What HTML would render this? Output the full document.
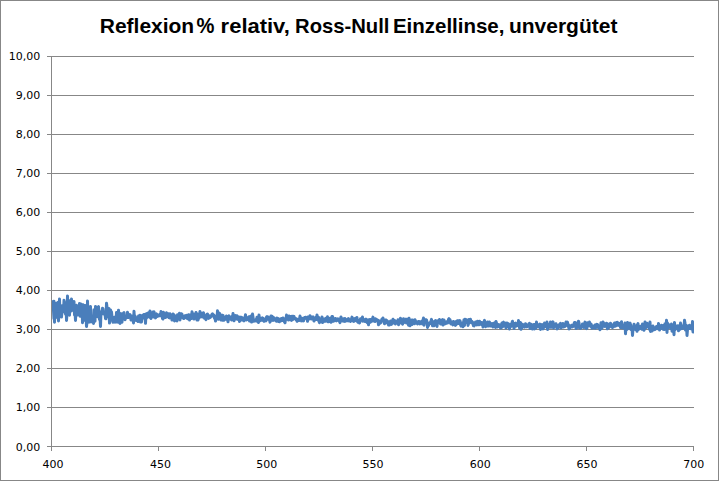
<!DOCTYPE html>
<html><head><meta charset="utf-8"><style>
html,body{margin:0;padding:0;background:#fff;}
svg{display:block;}
</style></head><body>
<svg width="719" height="481" viewBox="0 0 719 481">
<defs><clipPath id="pa"><rect x="52" y="56" width="642" height="390"/></clipPath></defs>
<rect x="0.5" y="0.5" width="718" height="480" fill="#fff" stroke="#878787" stroke-width="1"/>
<g font-family="Liberation Sans, sans-serif" font-weight="bold" font-size="20.5" fill="#000"><text x="99.78" y="33" textLength="94.43" lengthAdjust="spacingAndGlyphs">Reflexion</text><text x="196.42" y="33" font-size="21.5" textLength="17.91" lengthAdjust="spacingAndGlyphs">%</text><text x="220.63" y="33" textLength="69.16" lengthAdjust="spacingAndGlyphs">relativ,</text><text x="295.11" y="33" textLength="94.35" lengthAdjust="spacingAndGlyphs">Ross-Null</text><text x="392.90" y="33" textLength="111.55" lengthAdjust="spacingAndGlyphs">Einzellinse,</text><text x="508.98" y="33" textLength="108.46" lengthAdjust="spacingAndGlyphs">unvergütet</text></g>
<g stroke="#878787" stroke-width="1" shape-rendering="crispEdges"><line x1="47" y1="446.5" x2="694" y2="446.5"/><line x1="47" y1="407.5" x2="694" y2="407.5"/><line x1="47" y1="368.5" x2="694" y2="368.5"/><line x1="47" y1="329.5" x2="694" y2="329.5"/><line x1="47" y1="290.5" x2="694" y2="290.5"/><line x1="47" y1="251.5" x2="694" y2="251.5"/><line x1="47" y1="212.5" x2="694" y2="212.5"/><line x1="47" y1="173.5" x2="694" y2="173.5"/><line x1="47" y1="134.5" x2="694" y2="134.5"/><line x1="47" y1="95.5" x2="694" y2="95.5"/><line x1="47" y1="56.5" x2="694" y2="56.5"/><line x1="51.5" y1="56" x2="51.5" y2="451"/><line x1="51.5" y1="446" x2="51.5" y2="451"/><line x1="158.5" y1="446" x2="158.5" y2="451"/><line x1="265.5" y1="446" x2="265.5" y2="451"/><line x1="372.5" y1="446" x2="372.5" y2="451"/><line x1="479.5" y1="446" x2="479.5" y2="451"/><line x1="586.5" y1="446" x2="586.5" y2="451"/><line x1="693.5" y1="446" x2="693.5" y2="451"/></g>
<g font-family="DejaVu Sans, sans-serif" font-size="11" fill="#000" text-anchor="end"><text x="40.3" y="451">0,00</text><text x="40.3" y="411">1,00</text><text x="40.3" y="372">2,00</text><text x="40.3" y="333">3,00</text><text x="40.3" y="294">4,00</text><text x="40.3" y="255">5,00</text><text x="40.3" y="216">6,00</text><text x="40.3" y="177">7,00</text><text x="40.3" y="138">8,00</text><text x="40.3" y="99">9,00</text><text x="40.3" y="60">10,00</text></g>
<g font-family="DejaVu Sans, sans-serif" font-size="11" fill="#000" text-anchor="middle"><text x="53.1" y="468">400</text><text x="160.4" y="468">450</text><text x="266.8" y="468">500</text><text x="373.0" y="468">550</text><text x="480.3" y="468">600</text><text x="587.0" y="468">650</text><text x="693.8" y="468">700</text></g>
<polyline clip-path="url(#pa)" fill="none" stroke="#4a7ebb" stroke-width="3" stroke-linejoin="round" stroke-linecap="round" points="51.0,318.5 51.5,301.5 52.0,303.2 52.5,306.4 53.0,307.1 53.5,308.5 54.0,301.2 54.5,322.2 55.0,304.2 55.5,318.0 56.0,310.8 56.5,303.2 57.0,307.6 57.5,305.1 58.0,302.6 58.5,321.0 59.0,312.0 59.5,299.0 60.0,314.8 60.5,307.6 61.0,308.9 61.5,317.1 62.0,311.9 62.5,305.4 63.0,307.3 63.5,311.7 64.0,300.2 64.5,306.6 65.0,306.6 65.5,314.2 66.0,302.5 66.5,320.5 67.0,313.7 67.5,296.1 68.0,309.1 68.5,312.8 69.0,300.4 69.5,315.3 70.0,303.2 70.5,300.8 71.0,311.1 71.5,299.0 72.0,307.0 72.5,303.2 73.0,310.2 73.5,309.8 74.0,301.5 74.5,315.0 75.0,311.8 75.5,320.5 76.0,309.6 76.5,305.3 77.0,314.7 77.5,314.9 78.0,310.1 78.5,306.7 79.0,313.1 79.5,303.4 80.0,316.3 80.5,315.2 81.0,303.9 81.5,312.8 82.0,306.8 82.5,322.7 83.0,304.7 83.5,307.6 84.0,317.5 84.5,320.3 85.0,305.4 85.5,310.8 86.0,315.8 86.5,326.5 87.0,322.2 87.5,301.1 88.0,316.5 88.5,308.5 89.0,322.2 89.5,314.3 90.0,312.2 90.5,306.6 91.0,321.9 91.5,318.4 92.0,318.3 92.5,320.3 93.0,316.0 93.5,323.5 94.0,309.7 94.5,309.7 95.0,321.2 95.5,306.6 96.0,310.7 96.5,312.1 97.0,314.9 97.5,316.7 98.0,307.3 98.5,306.7 99.0,313.6 99.5,319.6 100.0,317.3 100.5,326.5 101.0,311.7 101.5,314.5 102.0,311.7 102.5,308.2 103.0,308.9 103.5,313.1 104.0,311.8 104.5,314.6 105.0,313.0 105.5,318.6 106.0,318.8 106.5,303.2 107.0,307.2 107.5,312.1 108.0,311.3 108.5,316.6 109.0,308.6 109.5,323.1 110.0,319.8 110.5,310.0 111.0,311.7 111.5,311.9 112.0,316.7 112.5,319.2 113.0,322.2 113.5,321.4 114.0,319.7 114.5,317.2 115.0,322.2 115.5,319.6 116.0,322.1 116.5,312.4 117.0,315.9 117.5,313.6 118.0,322.2 118.5,310.2 119.0,315.6 119.5,315.1 120.0,323.5 120.5,314.3 121.0,313.6 121.5,318.5 122.0,322.2 122.5,316.1 123.0,315.1 123.5,313.1 124.0,312.6 124.5,318.7 125.0,319.7 125.5,317.1 126.0,318.1 126.5,317.4 127.0,317.5 127.5,312.2 128.0,315.7 128.5,317.5 129.0,314.7 129.5,315.7 130.0,314.6 130.5,316.2 131.0,320.0 131.5,316.0 132.0,316.9 132.5,320.0 133.0,319.5 133.5,322.9 134.0,311.3 134.5,320.2 135.0,316.0 135.5,317.8 136.0,319.9 136.5,320.5 137.0,320.2 137.5,317.5 138.0,321.6 138.5,316.1 139.0,316.5 139.5,318.9 140.0,315.2 140.5,322.1 141.0,319.1 141.5,321.9 142.0,316.3 142.5,315.3 143.0,316.6 143.5,317.9 144.0,314.6 144.5,316.8 145.0,315.8 145.5,323.3 146.0,314.1 146.5,318.0 147.0,314.1 147.5,313.3 148.0,313.8 148.5,312.7 149.0,315.5 149.5,317.3 150.0,311.0 150.5,316.4 151.0,318.5 151.5,315.7 152.0,315.6 152.5,314.7 153.0,311.9 153.5,316.9 154.0,311.7 154.5,316.8 155.0,315.5 155.5,317.9 156.0,315.5 156.5,313.9 157.0,316.5 157.5,314.6 158.0,315.4 158.5,315.9 159.0,315.6 159.5,315.6 160.0,314.3 160.5,315.7 161.0,311.6 161.5,315.8 162.0,313.7 162.5,318.6 163.0,319.0 163.5,312.3 164.0,316.7 164.5,316.2 165.0,314.3 165.5,317.6 166.0,315.5 166.5,312.7 167.0,315.9 167.5,316.1 168.0,316.6 168.5,313.7 169.0,317.7 169.5,317.9 170.0,313.8 170.5,314.9 171.0,316.1 171.5,315.0 172.0,320.0 172.5,316.7 173.0,314.0 173.5,314.4 174.0,316.0 174.5,320.9 175.0,315.7 175.5,316.4 176.0,317.2 176.5,316.0 177.0,320.9 177.5,314.8 178.0,317.6 178.5,316.3 179.0,317.3 179.5,313.3 180.0,319.9 180.5,315.6 181.0,315.9 181.5,313.7 182.0,314.2 182.5,317.1 183.0,318.0 183.5,317.5 184.0,318.5 184.5,317.4 185.0,315.8 185.5,317.6 186.0,317.0 186.5,315.4 187.0,317.3 187.5,318.6 188.0,316.1 188.5,314.7 189.0,317.2 189.5,320.0 190.0,315.0 190.5,315.3 191.0,315.2 191.5,318.4 192.0,311.8 192.5,316.5 193.0,318.4 193.5,313.9 194.0,319.1 194.5,317.0 195.0,314.6 195.5,316.3 196.0,312.5 196.5,314.7 197.0,320.0 197.5,314.0 198.0,320.0 198.5,315.9 199.0,318.2 199.5,316.2 200.0,311.4 200.5,314.9 201.0,316.6 201.5,313.8 202.0,313.4 202.5,317.0 203.0,315.0 203.5,312.8 204.0,315.0 204.5,318.2 205.0,315.5 205.5,318.4 206.0,319.6 206.5,316.6 207.0,314.3 207.5,314.0 208.0,316.6 208.5,318.4 209.0,317.2 209.5,317.8 210.0,315.9 210.5,317.4 211.0,315.9 211.5,316.2 212.0,314.4 212.5,313.9 213.0,316.0 213.5,314.9 214.0,315.2 214.5,318.3 215.0,316.8 215.5,321.1 216.0,318.8 216.5,315.9 217.0,318.6 217.5,310.8 218.0,315.9 218.5,319.3 219.0,315.8 219.5,313.1 220.0,318.7 220.5,316.1 221.0,320.1 221.5,316.1 222.0,315.1 222.5,320.3 223.0,315.4 223.5,317.8 224.0,320.2 224.5,317.7 225.0,317.3 225.5,317.7 226.0,319.1 226.5,316.0 227.0,318.7 227.5,318.7 228.0,321.8 228.5,317.0 229.0,315.9 229.5,319.1 230.0,317.0 230.5,318.3 231.0,318.0 231.5,320.0 232.0,316.5 232.5,317.6 233.0,313.6 233.5,316.2 234.0,320.8 234.5,316.6 235.0,316.6 235.5,315.6 236.0,319.1 236.5,318.3 237.0,315.7 237.5,319.3 238.0,318.6 238.5,319.5 239.0,316.9 239.5,321.5 240.0,318.9 240.5,317.9 241.0,317.2 241.5,317.7 242.0,319.9 242.5,317.7 243.0,320.3 243.5,319.4 244.0,320.9 244.5,319.9 245.0,318.2 245.5,314.7 246.0,318.9 246.5,319.9 247.0,318.7 247.5,319.5 248.0,317.5 248.5,317.7 249.0,316.7 249.5,321.0 250.0,318.8 250.5,317.6 251.0,316.0 251.5,322.1 252.0,321.3 252.5,314.0 253.0,317.2 253.5,321.3 254.0,321.3 254.5,320.5 255.0,320.1 255.5,320.8 256.0,319.7 256.5,320.1 257.0,317.3 257.5,321.5 258.0,319.2 258.5,322.5 259.0,315.0 259.5,320.1 260.0,320.6 260.5,318.2 261.0,319.7 261.5,320.2 262.0,319.9 262.5,317.9 263.0,318.6 263.5,320.8 264.0,321.3 264.5,319.1 265.0,319.1 265.5,319.4 266.0,320.9 266.5,317.1 267.0,316.6 267.5,319.3 268.0,317.0 268.5,318.0 269.0,319.3 269.5,320.0 270.0,322.1 270.5,320.6 271.0,315.9 271.5,320.2 272.0,316.3 272.5,316.9 273.0,320.4 273.5,318.5 274.0,317.8 274.5,318.5 275.0,320.1 275.5,319.2 276.0,319.3 276.5,321.3 277.0,318.1 277.5,318.5 278.0,318.5 278.5,321.5 279.0,321.1 279.5,321.6 280.0,319.2 280.5,319.0 281.0,320.7 281.5,318.5 282.0,320.6 282.5,320.4 283.0,317.9 283.5,318.9 284.0,318.8 284.5,322.0 285.0,322.8 285.5,318.8 286.0,318.9 286.5,315.1 287.0,319.2 287.5,318.8 288.0,317.0 288.5,320.1 289.0,316.1 289.5,318.3 290.0,318.9 290.5,316.5 291.0,320.0 291.5,320.4 292.0,316.2 292.5,316.2 293.0,319.5 293.5,318.4 294.0,316.4 294.5,317.9 295.0,318.2 295.5,318.2 296.0,319.8 296.5,319.0 297.0,321.3 297.5,320.6 298.0,319.4 298.5,320.1 299.0,320.5 299.5,319.4 300.0,316.1 300.5,319.6 301.0,318.3 301.5,320.9 302.0,318.3 302.5,319.0 303.0,318.6 303.5,320.9 304.0,318.3 304.5,317.5 305.0,318.5 305.5,317.2 306.0,318.2 306.5,317.9 307.0,318.4 307.5,321.2 308.0,317.1 308.5,317.9 309.0,317.5 309.5,318.9 310.0,315.7 310.5,316.6 311.0,317.9 311.5,319.0 312.0,318.0 312.5,317.3 313.0,316.8 313.5,319.3 314.0,321.0 314.5,319.2 315.0,319.0 315.5,319.6 316.0,317.2 316.5,318.4 317.0,314.9 317.5,319.7 318.0,319.2 318.5,317.1 319.0,321.5 319.5,322.6 320.0,319.1 320.5,320.3 321.0,320.1 321.5,321.0 322.0,317.0 322.5,322.5 323.0,318.8 323.5,321.8 324.0,319.8 324.5,319.0 325.0,319.4 325.5,321.2 326.0,318.2 326.5,319.0 327.0,318.9 327.5,316.8 328.0,321.8 328.5,320.6 329.0,319.6 329.5,321.5 330.0,318.2 330.5,319.6 331.0,322.3 331.5,321.2 332.0,316.4 332.5,316.4 333.0,318.2 333.5,321.2 334.0,319.0 334.5,319.4 335.0,320.6 335.5,318.5 336.0,320.0 336.5,320.8 337.0,320.4 337.5,320.3 338.0,318.9 338.5,320.4 339.0,319.2 339.5,321.4 340.0,322.6 340.5,318.8 341.0,317.0 341.5,319.2 342.0,320.2 342.5,321.0 343.0,321.1 343.5,318.8 344.0,318.8 344.5,321.4 345.0,318.4 345.5,321.2 346.0,319.5 346.5,320.8 347.0,320.7 347.5,320.8 348.0,320.9 348.5,318.6 349.0,320.2 349.5,319.9 350.0,320.3 350.5,321.5 351.0,319.5 351.5,319.0 352.0,317.1 352.5,319.5 353.0,320.9 353.5,318.8 354.0,321.4 354.5,320.3 355.0,319.6 355.5,318.2 356.0,320.3 356.5,320.9 357.0,317.6 357.5,321.6 358.0,322.2 358.5,320.4 359.0,320.6 359.5,323.0 360.0,321.7 360.5,318.8 361.0,320.0 361.5,319.9 362.0,319.9 362.5,317.1 363.0,321.2 363.5,319.3 364.0,320.5 364.5,320.1 365.0,321.5 365.5,319.9 366.0,319.2 366.5,321.1 367.0,322.4 367.5,320.0 368.0,322.4 368.5,324.8 369.0,319.8 369.5,322.7 370.0,319.4 370.5,322.1 371.0,319.9 371.5,321.3 372.0,318.9 372.5,319.5 373.0,317.1 373.5,321.1 374.0,320.9 374.5,320.2 375.0,321.5 375.5,318.8 376.0,319.3 376.5,320.7 377.0,319.7 377.5,320.0 378.0,320.9 378.5,324.8 379.0,320.8 379.5,323.7 380.0,322.7 380.5,323.0 381.0,321.1 381.5,320.4 382.0,319.0 382.5,320.7 383.0,318.0 383.5,320.4 384.0,322.5 384.5,323.8 385.0,322.8 385.5,320.0 386.0,322.1 386.5,320.1 387.0,322.7 387.5,321.2 388.0,322.8 388.5,324.9 389.0,322.9 389.5,325.0 390.0,321.8 390.5,321.0 391.0,323.7 391.5,324.3 392.0,320.7 392.5,321.7 393.0,319.3 393.5,321.3 394.0,323.1 394.5,321.5 395.0,320.7 395.5,323.9 396.0,322.3 396.5,323.0 397.0,322.7 397.5,322.2 398.0,319.7 398.5,324.7 399.0,321.7 399.5,321.6 400.0,323.1 400.5,318.2 401.0,321.8 401.5,321.7 402.0,322.5 402.5,324.2 403.0,322.7 403.5,318.8 404.0,321.4 404.5,322.4 405.0,322.3 405.5,319.8 406.0,319.2 406.5,323.0 407.0,322.7 407.5,322.1 408.0,319.1 408.5,325.2 409.0,318.3 409.5,321.5 410.0,325.8 410.5,321.9 411.0,322.6 411.5,320.1 412.0,324.6 412.5,320.0 413.0,322.7 413.5,322.5 414.0,320.4 414.5,323.8 415.0,319.8 415.5,321.1 416.0,322.3 416.5,321.6 417.0,323.2 417.5,324.0 418.0,321.8 418.5,321.4 419.0,321.5 419.5,321.8 420.0,323.9 420.5,322.1 421.0,323.2 421.5,322.3 422.0,321.0 422.5,324.1 423.0,320.6 423.5,318.0 424.0,325.2 424.5,320.6 425.0,322.5 425.5,319.7 426.0,321.7 426.5,319.9 427.0,322.0 427.5,327.4 428.0,322.9 428.5,325.6 429.0,323.2 429.5,323.9 430.0,322.6 430.5,322.2 431.0,321.2 431.5,319.4 432.0,322.8 432.5,325.7 433.0,323.6 433.5,321.7 434.0,325.8 434.5,321.9 435.0,321.6 435.5,320.5 436.0,320.9 436.5,322.2 437.0,326.4 437.5,322.3 438.0,320.8 438.5,321.6 439.0,322.3 439.5,319.5 440.0,322.9 440.5,324.0 441.0,323.3 441.5,323.8 442.0,320.3 442.5,319.6 443.0,325.1 443.5,324.7 444.0,319.9 444.5,323.1 445.0,322.7 445.5,323.7 446.0,323.1 446.5,321.8 447.0,323.1 447.5,323.0 448.0,322.6 448.5,319.3 449.0,318.6 449.5,321.2 450.0,319.7 450.5,323.2 451.0,324.0 451.5,323.2 452.0,322.0 452.5,322.8 453.0,324.9 453.5,321.4 454.0,324.4 454.5,324.0 455.0,323.2 455.5,325.4 456.0,321.4 456.5,324.4 457.0,321.0 457.5,321.3 458.0,320.7 458.5,323.5 459.0,321.0 459.5,322.8 460.0,320.6 460.5,324.7 461.0,326.1 461.5,323.1 462.0,325.7 462.5,323.7 463.0,326.7 463.5,322.9 464.0,319.8 464.5,325.5 465.0,319.3 465.5,320.8 466.0,321.5 466.5,319.7 467.0,322.4 467.5,320.7 468.0,325.4 468.5,323.9 469.0,319.6 469.5,319.9 470.0,321.7 470.5,319.2 471.0,322.6 471.5,322.8 472.0,321.5 472.5,322.0 473.0,324.0 473.5,325.8 474.0,325.9 474.5,323.3 475.0,324.9 475.5,322.0 476.0,324.2 476.5,321.7 477.0,324.9 477.5,321.3 478.0,321.9 478.5,323.7 479.0,324.8 479.5,321.2 480.0,322.9 480.5,324.2 481.0,324.4 481.5,322.5 482.0,324.3 482.5,323.7 483.0,326.9 483.5,325.4 484.0,321.9 484.5,320.4 485.0,324.7 485.5,326.7 486.0,324.8 486.5,326.2 487.0,323.7 487.5,322.0 488.0,326.0 488.5,324.8 489.0,325.9 489.5,322.1 490.0,325.0 490.5,323.5 491.0,326.1 491.5,323.6 492.0,323.5 492.5,323.6 493.0,327.0 493.5,324.8 494.0,323.3 494.5,322.8 495.0,322.8 495.5,327.4 496.0,321.4 496.5,323.2 497.0,326.0 497.5,327.0 498.0,324.5 498.5,326.3 499.0,326.2 499.5,326.6 500.0,324.9 500.5,327.9 501.0,325.3 501.5,327.7 502.0,322.9 502.5,326.7 503.0,322.7 503.5,322.2 504.0,325.9 504.5,323.5 505.0,325.8 505.5,323.1 506.0,328.0 506.5,325.1 507.0,323.0 507.5,325.4 508.0,326.7 508.5,323.7 509.0,326.1 509.5,328.9 510.0,326.7 510.5,325.2 511.0,324.2 511.5,326.3 512.0,322.5 512.5,321.2 513.0,324.0 513.5,323.3 514.0,328.4 514.5,325.5 515.0,323.5 515.5,323.2 516.0,326.2 516.5,323.8 517.0,324.3 517.5,325.2 518.0,325.5 518.5,320.6 519.0,325.6 519.5,327.8 520.0,328.5 520.5,322.5 521.0,329.3 521.5,325.7 522.0,327.7 522.5,324.2 523.0,326.1 523.5,325.9 524.0,325.7 524.5,327.1 525.0,326.7 525.5,323.8 526.0,325.4 526.5,326.9 527.0,326.8 527.5,325.0 528.0,325.1 528.5,325.4 529.0,323.7 529.5,323.4 530.0,328.5 530.5,325.0 531.0,325.9 531.5,324.4 532.0,328.0 532.5,328.9 533.0,325.4 533.5,326.7 534.0,324.4 534.5,328.9 535.0,327.4 535.5,324.3 536.0,328.0 536.5,322.1 537.0,326.5 537.5,326.4 538.0,324.6 538.5,324.8 539.0,326.9 539.5,325.7 540.0,324.1 540.5,329.4 541.0,325.4 541.5,324.8 542.0,324.5 542.5,327.0 543.0,328.9 543.5,326.2 544.0,327.3 544.5,323.1 545.0,325.1 545.5,324.9 546.0,325.8 546.5,326.7 547.0,322.1 547.5,329.5 548.0,324.2 548.5,326.4 549.0,327.3 549.5,327.3 550.0,326.2 550.5,321.9 551.0,323.8 551.5,327.2 552.0,324.1 552.5,323.8 553.0,321.9 553.5,328.0 554.0,326.7 554.5,324.1 555.0,325.5 555.5,325.6 556.0,323.7 556.5,325.2 557.0,328.9 557.5,326.8 558.0,328.1 558.5,325.8 559.0,324.9 559.5,326.5 560.0,324.5 560.5,323.4 561.0,327.9 561.5,325.0 562.0,326.0 562.5,327.0 563.0,323.6 563.5,327.0 564.0,326.6 564.5,325.5 565.0,326.5 565.5,324.3 566.0,322.0 566.5,325.2 567.0,324.0 567.5,322.1 568.0,326.2 568.5,324.7 569.0,328.9 569.5,328.4 570.0,327.9 570.5,326.5 571.0,326.6 571.5,325.2 572.0,325.5 572.5,326.9 573.0,325.5 573.5,326.3 574.0,323.6 574.5,322.5 575.0,322.4 575.5,324.9 576.0,328.4 576.5,328.1 577.0,323.8 577.5,322.7 578.0,327.3 578.5,321.2 579.0,323.0 579.5,327.9 580.0,326.1 580.5,328.4 581.0,326.4 581.5,327.5 582.0,326.4 582.5,323.9 583.0,325.3 583.5,324.4 584.0,327.4 584.5,323.8 585.0,322.1 585.5,327.1 586.0,328.0 586.5,328.6 587.0,327.9 587.5,322.8 588.0,324.4 588.5,324.7 589.0,325.7 589.5,322.1 590.0,325.7 590.5,326.3 591.0,323.9 591.5,326.0 592.0,328.1 592.5,325.9 593.0,327.8 593.5,327.8 594.0,326.6 594.5,326.5 595.0,325.0 595.5,328.2 596.0,324.8 596.5,324.4 597.0,327.1 597.5,324.4 598.0,326.6 598.5,327.8 599.0,325.9 599.5,325.9 600.0,329.8 600.5,327.1 601.0,322.7 601.5,323.1 602.0,328.2 602.5,326.4 603.0,322.1 603.5,323.0 604.0,325.6 604.5,323.7 605.0,326.4 605.5,325.7 606.0,326.4 606.5,323.3 607.0,326.6 607.5,328.8 608.0,323.9 608.5,327.9 609.0,327.2 609.5,326.6 610.0,325.2 610.5,323.2 611.0,323.7 611.5,326.7 612.0,327.1 612.5,327.5 613.0,327.0 613.5,326.9 614.0,324.4 614.5,323.0 615.0,325.5 615.5,326.1 616.0,325.3 616.5,322.4 617.0,324.2 617.5,322.4 618.0,325.3 618.5,323.2 619.0,324.7 619.5,325.6 620.0,325.2 620.5,327.5 621.0,323.1 621.5,321.7 622.0,327.0 622.5,327.9 623.0,328.0 623.5,325.9 624.0,326.5 624.5,325.7 625.0,322.9 625.5,333.8 626.0,326.6 626.5,324.5 627.0,329.5 627.5,322.5 628.0,324.9 628.5,328.3 629.0,324.6 629.5,323.5 630.0,323.0 630.5,324.4 631.0,329.5 631.5,327.1 632.0,327.4 632.5,335.5 633.0,328.3 633.5,326.6 634.0,324.2 634.5,325.4 635.0,327.0 635.5,329.5 636.0,326.5 636.5,327.9 637.0,331.3 637.5,324.7 638.0,323.6 638.5,329.4 639.0,328.1 639.5,326.7 640.0,327.7 640.5,326.2 641.0,328.4 641.5,326.2 642.0,329.2 642.5,324.0 643.0,324.9 643.5,327.4 644.0,330.2 644.5,328.9 645.0,322.1 645.5,325.7 646.0,327.6 646.5,325.8 647.0,323.2 647.5,324.3 648.0,325.1 648.5,325.9 649.0,327.4 649.5,329.4 650.0,322.1 650.5,331.5 651.0,330.2 651.5,326.7 652.0,331.1 652.5,330.0 653.0,326.1 653.5,327.9 654.0,329.7 654.5,327.7 655.0,329.5 655.5,328.1 656.0,328.8 656.5,326.4 657.0,328.1 657.5,326.4 658.0,328.7 658.5,323.4 659.0,327.9 659.5,330.0 660.0,328.5 660.5,327.1 661.0,328.4 661.5,325.3 662.0,325.4 662.5,326.4 663.0,326.9 663.5,329.4 664.0,325.2 664.5,329.4 665.0,323.7 665.5,325.5 666.0,327.1 666.5,320.3 667.0,332.4 667.5,323.1 668.0,328.2 668.5,327.2 669.0,324.8 669.5,324.9 670.0,325.7 670.5,327.5 671.0,328.7 671.5,324.0 672.0,331.2 672.5,327.2 673.0,326.4 673.5,328.7 674.0,334.7 674.5,322.5 675.0,329.7 675.5,326.4 676.0,326.4 676.5,326.1 677.0,326.5 677.5,328.7 678.0,325.8 678.5,330.8 679.0,327.1 679.5,326.9 680.0,329.4 680.5,323.1 681.0,325.2 681.5,328.6 682.0,327.3 682.5,327.2 683.0,328.1 683.5,325.9 684.0,326.9 684.5,320.3 685.0,323.1 685.5,330.1 686.0,325.2 686.5,325.7 687.0,335.5 687.5,329.6 688.0,326.1 688.5,326.1 689.0,327.1 689.5,325.2 690.0,328.5 690.5,327.6 691.0,327.6 691.5,329.0 692.0,328.9 692.5,321.6 693.0,332.0 693.5,323.5 694.0,329.3"/>
</svg>
</body></html>
